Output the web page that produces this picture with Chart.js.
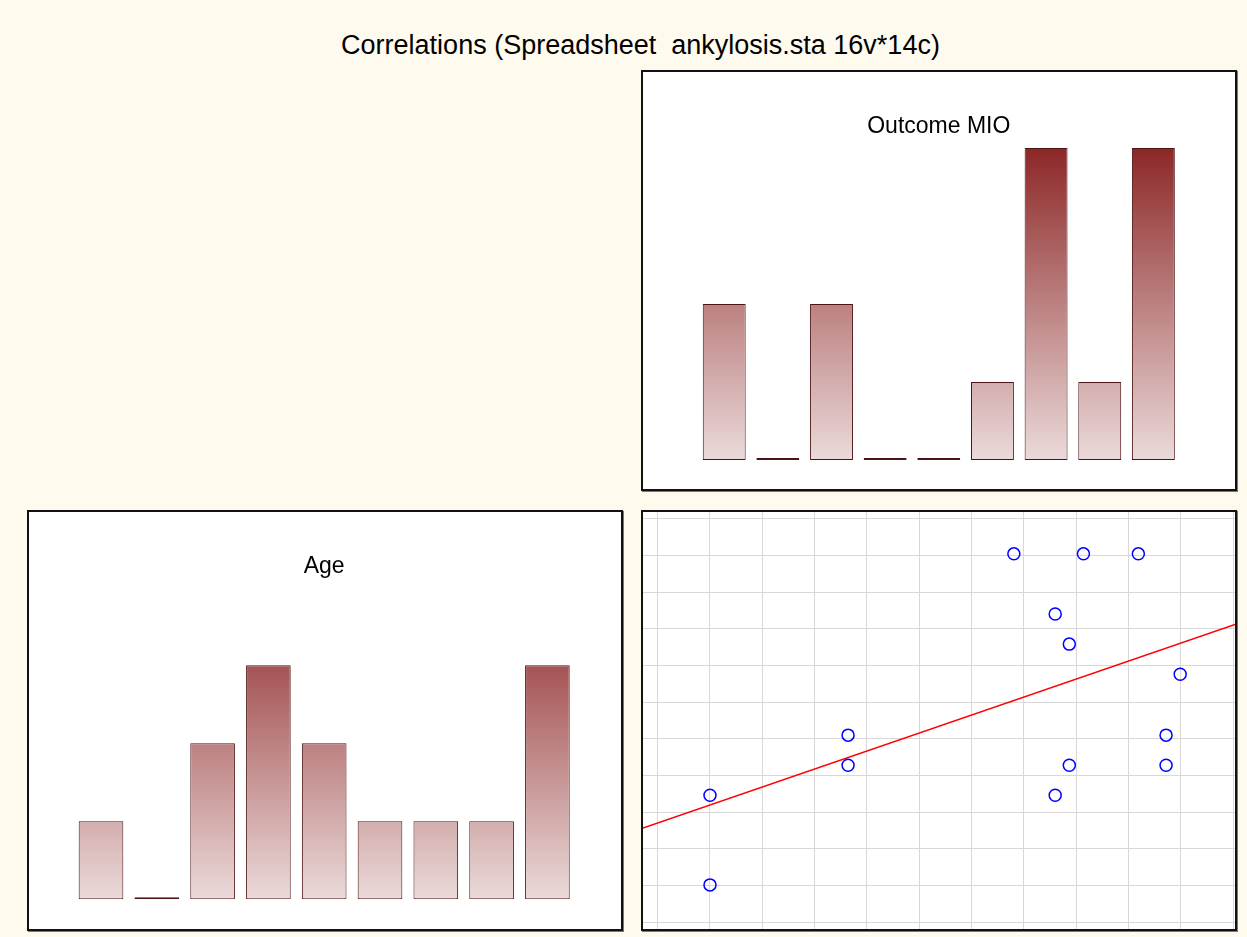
<!DOCTYPE html>
<html>
<head>
<meta charset="utf-8">
<script src="https://cdn.jsdelivr.net/npm/chart.js@4"></script>
<style>
  body {
    margin: 0;
    width: 1247px;
    height: 937px;
    background: #fffaee;
    position: relative;
    overflow: hidden;
    font-family: "Liberation Sans", Arial, sans-serif;
  }
  #mainTitle {
    position: absolute;
    left: 280px;
    width: 721px;
    top: 29px;
    line-height: 32px;
    font-size: 27px;
    text-align: center;
    white-space: pre;
    color: #000;
  }
  .panel {
    position: absolute;
    width: 596px;
    height: 421px;
    box-sizing: border-box;
    background: #fff;
    border: 2px solid #111;
    box-shadow: 1px 1px 0 #777;
  }
  .panel .box {
    position: relative;
    width: 592px;
    height: 417px;
  }
</style>
</head>
<body>
<div id="mainTitle">Correlations (Spreadsheet  ankylosis.sta 16v*14c)</div>

<div class="panel" style="left:641px; top:70px;"><div class="box"><canvas id="mioChart"></canvas></div></div>
<div class="panel" style="left:27px; top:510px;"><div class="box"><canvas id="ageChart"></canvas></div></div>
<div class="panel" style="left:641px; top:510px;"><div class="box"><canvas id="scatterChart"></canvas></div></div>

<script>
// Histogram bins (counts per bin)
const binLabels = ['1', '2', '3', '4', '5', '6', '7', '8', '9'];
const mioCounts = [2, 0, 2, 0, 0, 1, 4, 1, 4];
const ageCounts = [1, 0, 2, 3, 2, 1, 1, 1, 3];

// Raw cases for the scatter plot (14 cases)
const mioValues = [6.81, 8.14, 9.19, 7.60, 7.87, 9.99, 3.64, 9.72, 3.64, 7.87, 9.72, 1.00, 7.60, 1.00];
const ageValues = [65.2, 65.2, 65.2, 57.0, 52.9, 48.8, 40.5, 40.5, 36.4, 36.4, 36.4, 32.3, 32.3, 20.1];

// Grid tick values of the scatter plot
const mioTicks = [0, 1, 2, 3, 4, 5, 6, 7, 8, 9, 10, 11];
const ageTicks = [15, 20, 25, 30, 35, 40, 45, 50, 55, 60, 65, 70];

const FONT = '"Liberation Sans", Arial, sans-serif';

// gradient over the whole plot area, light at the base, dark red at the top
function barFill(context) {
  const chart = context.chart;
  const area = chart.chartArea;
  if (!area) return '#c08080';
  const g = chart.ctx.createLinearGradient(0, area.bottom, 0, area.top);
  g.addColorStop(0, '#ebdada');
  g.addColorStop(1, '#8d2727');
  return g;
}

function histogram(canvasId, title, counts, pad) {
  const ctx = document.getElementById(canvasId).getContext('2d');
  return new Chart(ctx, {
    type: 'bar',
    data: {
      labels: binLabels,
      datasets: [{
        data: counts,
        backgroundColor: barFill,
        borderColor: '#4e1414',
        borderWidth: 1,
        borderSkipped: false,
        minBarLength: 2,
        barPercentage: 0.8,
        categoryPercentage: 1.0
      }]
    },
    options: {
      responsive: true,
      maintainAspectRatio: false,
      animation: false,
      layout: { padding: pad },
      scales: {
        x: { display: false },
        y: { display: false, min: 0, max: 4 }
      },
      plugins: {
        legend: { display: false },
        tooltip: { enabled: false },
        title: {
          display: true,
          text: title,
          color: '#000',
          font: { family: FONT, size: 23, weight: 'normal' },
          padding: { top: 41.2, bottom: pad.titleGap }
        }
      }
    }
  });
}

histogram('mioChart', 'Outcome MIO', mioCounts, { left: 54.4, right: 54.8, top: 0, bottom: 29, titleGap: 7.2 });
histogram('ageChart', 'Age', ageCounts, { left: 44.1, right: 45.7, top: 0, bottom: 29.7, titleGap: 6.5 });

// least squares fit of Age on MIO
function fitLine(xs, ys) {
  const n = xs.length;
  const mx = xs.reduce((a, b) => a + b, 0) / n;
  const my = ys.reduce((a, b) => a + b, 0) / n;
  let sxy = 0, sxx = 0;
  for (let i = 0; i < n; i++) {
    sxy += (xs[i] - mx) * (ys[i] - my);
    sxx += (xs[i] - mx) * (xs[i] - mx);
  }
  const slope = sxy / sxx;
  return { slope: slope, intercept: my - slope * mx };
}

const xMin = -0.281, xMax = 11.038;
const yMin = 14.09, yMax = 70.9;
const fit = fitLine(mioValues, ageValues);
const points = mioValues.map((v, i) => ({ x: v, y: ageValues[i] }));
const linePoints = [xMin, xMax].map(x => ({ x: x, y: fit.intercept + fit.slope * x }));

const gridAxis = (min, max, tickValues) => ({
  type: 'linear',
  min: min,
  max: max,
  afterBuildTicks: scale => { scale.ticks = tickValues.map(v => ({ value: v })); },
  ticks: { display: false },
  grid: { color: '#d8d8d8', lineWidth: 1, drawTicks: false },
  border: { display: false }
});

new Chart(document.getElementById('scatterChart').getContext('2d'), {
  type: 'scatter',
  data: {
    datasets: [
      {
        data: points,
        pointRadius: 6,
        pointHoverRadius: 6,
        pointBorderColor: '#0000ff',
        pointBackgroundColor: 'rgba(0,0,0,0)',
        pointBorderWidth: 1.5
      },
      {
        type: 'line',
        data: linePoints,
        borderColor: '#ff0000',
        borderWidth: 1.5,
        pointRadius: 0,
        fill: false
      }
    ]
  },
  options: {
    responsive: true,
    maintainAspectRatio: false,
    animation: false,
    layout: { padding: 0, autoPadding: false },
    scales: {
      x: gridAxis(xMin, xMax, mioTicks),
      y: gridAxis(yMin, yMax, ageTicks)
    },
    plugins: {
      legend: { display: false },
      tooltip: { enabled: false }
    }
  }
});
</script>
</body>
</html>
